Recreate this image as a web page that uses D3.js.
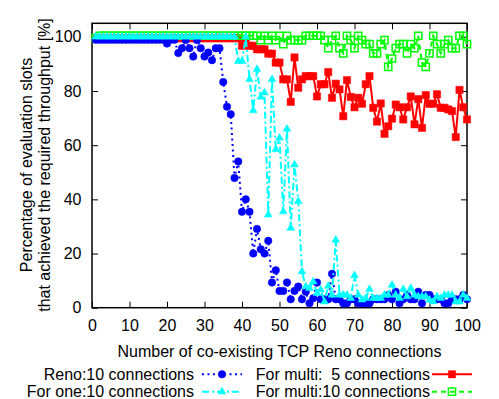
<!DOCTYPE html>
<html>
<head>
<meta charset="utf-8">
<script src="https://cdn.jsdelivr.net/npm/d3@7"></script>
<style>
  body { margin: 0; background: #fff; }
  svg { display: block; font-family: "Liberation Sans", Arial, sans-serif; }
</style>
</head>
<body>
<div id="chart"></div>
<script>
// number of co-existing TCP Reno connections
const connections = d3.range(1, 101);

const renoTen = [
  98.9, 98.9, 98.9, 98.9, 98.9, 98.9, 98.9, 98.9, 98.9, 98.9,
  98.9, 98.9, 98.9, 98.9, 98.9, 98.9, 98.9, 98.9, 98.9, 97.5,
  98.9, 98.9, 94.0, 95.8, 98.8, 95.8, 92.7, 98.8, 95.8, 92.7,
  94.2, 91.4, 95.8, 95.8, 83.3, 74.2, 71.4, 47.9, 54.0, 35.4,
  40.0, 35.4, 20.0, 29.1, 21.6, 20.0, 24.7, 9.3, 13.8, 6.2,
  6.2, 9.3, 3.1, 6.2, 7.8, 3.1, 5.9, 1.6, 3.5, 9.3,
  3.1, 3.1, 3.1, 12.5, 3.1, 3.1, 1.6, 1.6, 3.1, 3.1,
  1.6, 1.6, 1.6, 1.6, 3.1, 3.1, 3.1, 3.1, 4.7, 3.1,
  5.9, 1.6, 3.1, 4.7, 3.1, 3.1, 5.9, 1.6, 4.7, 4.7,
  3.1, 3.1, 3.1, 1.6, 1.6, 3.1, 3.1, 3.1, 4.7, 3.1
];

const oneTen = [
  100, 100, 100, 100, 100, 100, 100, 100, 100, 100,
  100, 100, 100, 100, 100, 100, 100, 100, 100, 100,
  100, 100, 100, 100, 100, 100, 100, 100, 100, 100,
  100, 100, 100, 100, 100, 100, 100, 100, 91.0, 91.0,
  100, 84.3, 72.8, 88.0, 77.8, 79.4, 34.3, 84.3, 58.4, 62.7,
  35.5, 66.0, 29.4, 52.8, 39.3, 13.3, 7.8, 7.2, 9.6, 5.3,
  6.6, 2.2, 8.0, 4.7, 25.0, 4.7, 4.7, 4.7, 3.5, 11.9,
  4.7, 2.9, 3.5, 6.8, 3.5, 3.5, 3.5, 4.7, 4.7, 8.4,
  4.7, 3.5, 6.8, 4.1, 7.2, 4.7, 4.1, 4.1, 4.1, 2.9,
  2.2, 4.1, 3.5, 4.7, 4.7, 4.7, 2.2, 2.2, 4.7, 3.5
];

const multiFive = [
  99.5, 99.5, 99.5, 99.5, 99.5, 99.5, 99.5, 99.5, 99.5, 99.5,
  99.5, 99.5, 99.5, 99.5, 99.5, 99.5, 99.5, 99.5, 99.5, 99.5,
  99.5, 99.5, 99.5, 99.5, 99.5, 99.5, 99.5, 99.5, 99.5, 99.5,
  99.5, 99.5, 99.5, 99.5, 99.5, 99.5, 99.5, 99.5, 99.5, 96.7,
  97.5, 96.7, 96.7, 95.4, 95.4, 95.4, 93.8, 93.8, 90.5, 90.5,
  84.3, 84.3, 76.0, 92.4, 81.2, 84.3, 85.5, 85.5, 85.5, 78.0,
  82.5, 82.5, 87.0, 77.5, 82.7, 80.6, 70.7, 84.0, 77.8, 74.0,
  77.5, 75.3, 82.5, 85.5, 73.8, 68.7, 75.4, 64.2, 67.0, 69.8,
  75.0, 74.0, 69.5, 74.0, 78.0, 67.7, 77.0, 66.4, 78.5, 75.3,
  75.3, 78.8, 73.8, 73.8, 73.2, 72.6, 63.0, 80.4, 74.0, 69.5
];

const multiTen = [
  99.5, 100.4, 100.4, 100.4, 100.4, 100.4, 100.4, 100.4, 100.4, 100.4,
  100.4, 100.4, 100.4, 100.4, 100.4, 100.4, 100.4, 100.4, 100.4, 100.4,
  100.4, 100.4, 100.4, 100.4, 100.4, 100.4, 100.4, 100.4, 100.4, 100.4,
  100.4, 100.4, 100.4, 100.4, 100.4, 100.4, 100.4, 100.4, 100.4, 100.4,
  100.4, 100.4, 100.4, 100.4, 98.8, 100.4, 98.8, 100.4, 98.8, 100.4,
  97.3, 100.4, 98.8, 98.8, 98.8, 98.8, 100.4, 100.4, 100.4, 100.4,
  100.4, 98.8, 95.8, 98.8, 100.4, 95.8, 93.9, 100.4, 98.8, 95.8,
  100.4, 98.8, 97.3, 97.3, 93.9, 93.9, 97.3, 98.8, 88.9, 92.0,
  95.8, 97.3, 97.3, 93.9, 97.3, 95.8, 100.4, 90.5, 88.9, 93.9,
  100.4, 97.3, 93.9, 97.3, 98.8, 95.8, 95.8, 100.4, 100.4, 97.3
];

const xTicks = [0, 10, 20, 30, 40, 50, 60, 70, 80, 90, 100];
const yTicks = [0, 20, 40, 60, 80, 100];

const width = 499, height = 399;
const plotLeft = 92, plotRight = 467, plotTop = 23.3, plotBottom = 307.7;

const svg = d3.select("#chart").append("svg")
    .attr("width", width)
    .attr("height", height);

const xScale = d3.scaleLinear().domain([0, 100]).range([plotLeft, plotRight]);
const yScale = d3.scaleLinear().domain([0, 105]).range([plotBottom, plotTop]);

// axes with inward ticks, mirrored on top and right
const xAxis = d3.axisBottom(xScale).tickValues(xTicks).tickSizeInner(-6).tickSizeOuter(0).tickPadding(11.5);
const yAxis = d3.axisLeft(yScale).tickValues(yTicks).tickSizeInner(-6).tickSizeOuter(0).tickPadding(10.5);
const xAxisTop = d3.axisTop(xScale).tickValues(xTicks).tickSizeInner(-6).tickSizeOuter(0).tickFormat("");
const yAxisRight = d3.axisRight(yScale).tickValues(yTicks).tickSizeInner(-6).tickSizeOuter(0).tickFormat("");

function styleAxis(g) {
    g.selectAll(".domain").remove();
    g.selectAll(".tick line").attr("stroke", "#000").attr("stroke-width", 1);
    g.selectAll(".tick text").attr("fill", "#000")
        .style("font-size", "16px")
        .style("font-family", "'Liberation Sans', Arial, sans-serif");
}

svg.append("g").attr("transform", "translate(0," + plotBottom + ")").call(xAxis).call(styleAxis);
svg.append("g").attr("transform", "translate(" + plotLeft + ",0)").call(yAxis).call(styleAxis);
svg.append("g").attr("transform", "translate(0," + plotTop + ")").call(xAxisTop).call(styleAxis);
svg.append("g").attr("transform", "translate(" + plotRight + ",0)").call(yAxisRight).call(styleAxis);

svg.append("rect")
    .attr("x", plotLeft).attr("y", plotTop)
    .attr("width", plotRight - plotLeft).attr("height", plotBottom - plotTop)
    .attr("fill", "none").attr("stroke", "#000").attr("stroke-width", 1.5);

// axis labels
svg.append("text")
    .attr("x", (plotLeft + plotRight) / 2).attr("y", 357)
    .attr("text-anchor", "middle")
    .style("font-size", "16px")
    .text("Number of co-existing TCP Reno connections");

const yLabel = svg.append("text")
    .attr("transform", "translate(0," + 165 + ") rotate(-90)")
    .attr("text-anchor", "middle")
    .style("font-size", "16px");
yLabel.append("tspan").attr("x", 0).attr("y", 31.5).text("Percentage of evaluation slots");
yLabel.append("tspan").attr("x", 0).attr("y", 49.5).text("that achieved the required throughput [%]");

const series = [
    {name: "For multi:  5 connections", values: multiFive, color: "#ff0000", dash: null,
     symbol: d3.symbolSquare, size: 53, filled: true, col: 1, row: 0},
    {name: "For multi:10 connections", values: multiTen, color: "#00ff00", dash: "5,4",
     symbol: d3.symbolSquare, size: 52, filled: false, col: 1, row: 1},
    {name: "Reno:10 connections", values: renoTen, color: "#0000ff", dash: "2,3.5",
     symbol: d3.symbolCircle, size: 44, filled: true, col: 0, row: 0},
    {name: "For one:10 connections", values: oneTen, color: "#00ffff", dash: "7,3,2,3",
     symbol: d3.symbolTriangle, size: 26, filled: true, col: 0, row: 1}
];

const line = d3.line()
    .x((d, i) => xScale(connections[i]))
    .y(d => yScale(d));

function marker(sel, s) {
    sel.attr("d", d3.symbol().type(s.symbol).size(s.size))
        .attr("fill", s.filled ? s.color : "none")
        .attr("stroke", s.color)
        .attr("stroke-width", s.filled ? 0.5 : 1.5);
}

series.forEach(s => {
    const g = svg.append("g");
    g.append("path")
        .datum(s.values)
        .attr("d", line)
        .attr("fill", "none")
        .attr("stroke", s.color)
        .attr("stroke-width", 2)
        .attr("stroke-dasharray", s.dash);
    g.selectAll("path.pt")
        .data(s.values)
        .enter().append("path")
        .attr("class", "pt")
        .attr("transform", (d, i) => "translate(" + xScale(connections[i]) + "," + yScale(d) + ")")
        .call(marker, s);
});

// legend: two columns, text right-aligned before a line sample
const legendTextEnd = [194, 430];
const legendSample = [202, 432];
const legendRows = [374.3, 391.7];

series.forEach(s => {
    const y = legendRows[s.row];
    const x0 = legendSample[s.col];
    svg.append("text")
        .attr("x", legendTextEnd[s.col]).attr("y", y)
        .attr("dy", "0.35em")
        .attr("text-anchor", "end")
        .style("font-size", "16px")
        .style("white-space", "pre")
        .text(s.name);
    svg.append("line")
        .attr("x1", x0).attr("x2", x0 + 40)
        .attr("y1", y).attr("y2", y)
        .attr("stroke", s.color)
        .attr("stroke-width", 2)
        .attr("stroke-dasharray", s.dash);
    svg.append("path")
        .attr("transform", "translate(" + (x0 + 20) + "," + y + ")")
        .call(marker, s);
});
</script>
</body>
</html>
